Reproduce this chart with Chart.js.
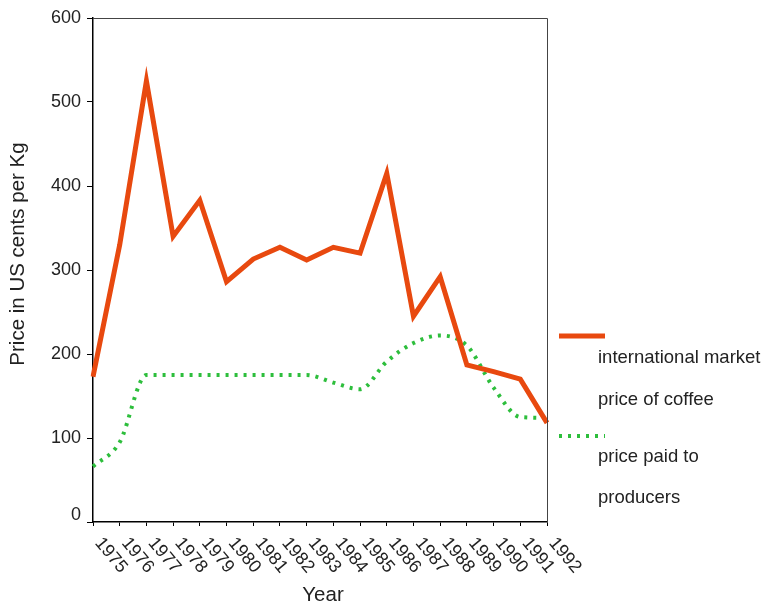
<!DOCTYPE html>
<html>
<head>
<meta charset="utf-8">
<script src="https://cdn.jsdelivr.net/npm/chart.js@4.4.1/dist/chart.umd.min.js"></script>
<style>
    body { margin: 0; background: #fff; }
</style>
</head>
<body>
<canvas id="coffee-chart" width="765" height="603"></canvas>
<script>
const years = ["1975", "1976", "1977", "1978", "1979", "1980", "1981", "1982", "1983",
    "1984", "1985", "1986", "1987", "1988", "1989", "1990", "1991", "1992"];
const marketPrice = [173, 330, 525, 340, 383, 286, 313, 327, 312, 327, 320, 415, 245, 292, 187, 179, 170, 118];
const producerPrice = [66, 95, 175, 175, 175, 175, 175, 175, 175, 166, 158, 191, 213, 222, 210, 160, 125, 124];
const yTickValues = [0, 100, 200, 300, 400, 500, 600];
const legendMarket = ["international market", "price of coffee"];
const legendProducer = ["price paid to", "producers"];

const RED = "#E8490F";
const GREEN = "#2DBE3C";
const TEXT = "#222";
const FONT = "Liberation Sans, Arial, Helvetica, sans-serif";

// draws the things Chart.js won't do out of the box:
// clockwise rotated year labels, y labels (the 0 sits a bit higher), box border, titles, legend
const extrasPlugin = {
    id: "extras",
    afterDraw(chart) {
        const c = chart.ctx;
        const area = chart.chartArea;
        const xScale = chart.scales.x;
        const yScale = chart.scales.y;

        c.save();
        // top + right border of the plot box
        c.strokeStyle = "#444";
        c.lineWidth = 1;
        c.beginPath();
        c.moveTo(area.left, area.top + 0.5);
        c.lineTo(area.right + 0.5, area.top + 0.5);
        c.lineTo(area.right + 0.5, area.bottom);
        c.stroke();

        c.fillStyle = TEXT;
        c.font = "18px " + FONT;

        // y labels
        c.textAlign = "right";
        c.textBaseline = "middle";
        yTickValues.forEach(v => {
            const y = yScale.getPixelForValue(v) + (v === 0 ? -7 : 0);
            c.fillText(String(v), area.left - 12, y);
        });

        // year labels
        c.textAlign = "left";
        years.forEach((year, i) => {
            const x = xScale.getPixelForTick(i);
            c.save();
            c.translate(x + 5, area.bottom + 18);
            c.rotate(50 * Math.PI / 180);
            c.fillText(year, 0, 0);
            c.restore();
        });

        // axis titles
        c.font = "20.5px " + FONT;
        c.textAlign = "center";
        c.fillText("Year", 323, 595);
        c.save();
        c.translate(18, 254);
        c.rotate(-Math.PI / 2);
        c.fillText("Price in US cents per Kg", 0, 0);
        c.restore();

        // legend
        c.lineWidth = 5;
        c.strokeStyle = RED;
        c.beginPath();
        c.moveTo(559, 336);
        c.lineTo(605, 336);
        c.stroke();

        c.lineWidth = 4;
        c.strokeStyle = GREEN;
        c.setLineDash([3, 6]);
        c.beginPath();
        c.moveTo(559, 436);
        c.lineTo(605, 436);
        c.stroke();
        c.setLineDash([]);

        c.font = "18.5px " + FONT;
        c.textAlign = "left";
        c.fillText(legendMarket[0], 598, 358);
        c.fillText(legendMarket[1], 598, 400);
        c.fillText(legendProducer[0], 598, 457);
        c.fillText(legendProducer[1], 598, 498);
        c.restore();
    }
};

const ctx = document.getElementById("coffee-chart").getContext("2d");

new Chart(ctx, {
    type: "line",
    data: {
        labels: years,
        datasets: [{
            label: legendMarket.join(" "),
            data: marketPrice,
            borderColor: RED,
            borderWidth: 5,
            borderJoinStyle: "miter",
            pointRadius: 0,
            tension: 0
        }, {
            label: legendProducer.join(" "),
            data: producerPrice,
            borderColor: GREEN,
            borderWidth: 4,
            borderDash: [3, 6],
            cubicInterpolationMode: "monotone",
            pointRadius: 0
        }]
    },
    options: {
        responsive: false,
        devicePixelRatio: 1,
        animation: false,
        layout: {
            padding: { top: 18, right: 218, left: 0, bottom: 0 }
        },
        plugins: {
            legend: { display: false },
            tooltip: { enabled: false }
        },
        scales: {
            x: {
                offset: false,
                grid: {
                    drawOnChartArea: false,
                    drawTicks: true,
                    tickLength: 4,
                    color: "#000"
                },
                border: { color: "#000", width: 1.5 },
                ticks: { display: false, autoSkip: false },
                afterFit(scale) {
                    scale.height = 81;
                }
            },
            y: {
                min: 0,
                max: 600,
                afterBuildTicks(scale) {
                    scale.ticks = yTickValues.map(v => ({ value: v }));
                },
                grid: {
                    drawOnChartArea: false,
                    drawTicks: true,
                    tickLength: 6,
                    color: "#000"
                },
                border: { color: "#000", width: 1.5 },
                ticks: { display: false },
                afterFit(scale) {
                    scale.width = 93;
                }
            }
        }
    },
    plugins: [extrasPlugin]
});
</script>
</body>
</html>
